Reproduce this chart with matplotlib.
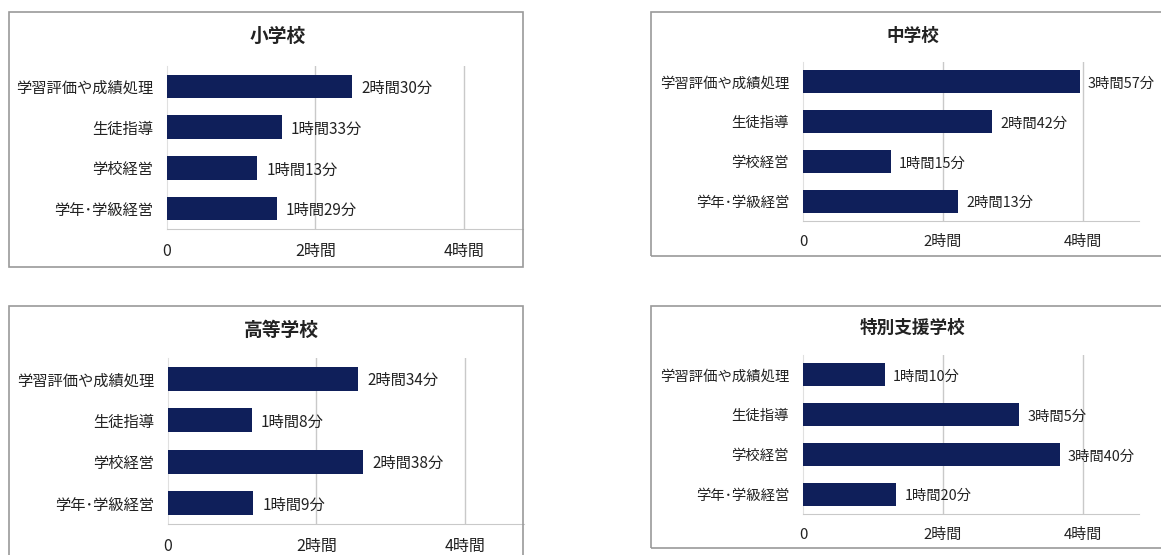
import matplotlib
matplotlib.use("Agg")
import matplotlib.pyplot as plt
from matplotlib.patches import Rectangle

plt.rcParams['font.family'] = ['Noto Sans CJK JP', 'DejaVu Sans']

# --> Data (minutes per day, by school type)
categories = ['学習評価や成績処理', '生徒指導', '学校経営', '学年･学級経営']
titles = ['小学校', '中学校', '高等学校', '特別支援学校']
elementary = [150, 93, 73, 89]
junior_high = [237, 162, 75, 133]
high_school = [154, 68, 158, 69]
special_needs = [70, 185, 220, 80]
tick_values = [0, 2, 4]
tick_labels = ['0', '2時間', '4時間']

W, H = 1161, 555
BAR_COLOR = '#0f1f5a'
GRID_COLOR = '#c9c9c9'
TEXT_COLOR = '#222222'

# --> Panel layout in pixels: border box, axes box (left, right, top, bottom), title centre,
#     and a text scale (right-hand charts are drawn slightly smaller)
panels = [
    dict(data=elementary, box=(9, 12, 523, 267), ax=(167, 523, 66, 229), title=(278, 36), s=1.0),
    dict(data=junior_high, box=(651, 12, 1170, 256), ax=(803, 1139, 62, 221), title=(913, 36), s=0.94),
    dict(data=high_school, box=(9, 306, 523, 570), ax=(168, 524, 358, 524), title=(281, 330), s=1.0),
    dict(data=special_needs, box=(651, 306, 1170, 548), ax=(803, 1139, 355, 514), title=(913, 328), s=0.94),
]


def fmt_minutes(m):
    return f"{m // 60}時間{m % 60}分"


fig = plt.figure(figsize=(W / 100, H / 100), dpi=100)
fig.patch.set_facecolor('white')

for title, p in zip(titles, panels):
    s = p['s']
    bx0, by0, bx1, by1 = p['box']
    fig.patches.append(Rectangle((bx0 / W, 1 - by1 / H), (bx1 - bx0) / W, (by1 - by0) / H,
                                 transform=fig.transFigure, fill=False,
                                 edgecolor='#9a9a9a', linewidth=1.2))

    fig.text(p['title'][0] / W, 1 - p['title'][1] / H, title, ha='center', va='center',
             fontsize=13.5 * s, fontweight='bold', color=TEXT_COLOR)

    l, r, t, b = p['ax']
    ax = fig.add_axes([l / W, 1 - b / H, (r - l) / W, (b - t) / H])
    ax.set_facecolor('none')

    hours = [m / 60 for m in p['data']]
    ypos = list(range(len(categories)))
    ax.barh(ypos, hours, height=0.58, color=BAR_COLOR, zorder=3)

    for y, m, h in zip(ypos, p['data'], hours):
        ax.text(h + 0.12, y + 0.05, fmt_minutes(m), va='center', ha='left',
                fontsize=11 * s, color=TEXT_COLOR, zorder=4)

    ax.set_xlim(0, 4.8)
    ax.set_ylim(3.5, -0.5)
    ax.set_yticks(ypos)
    ax.set_yticklabels(categories, fontsize=11 * s, color=TEXT_COLOR)
    ax.set_xticks(tick_values)
    ax.set_xticklabels(tick_labels, fontsize=11.5 * s, color=TEXT_COLOR)
    ax.tick_params(axis='both', length=0)
    ax.tick_params(axis='y', pad=10)
    ax.tick_params(axis='x', pad=10)

    for v in tick_values[1:]:
        ax.axvline(v, color=GRID_COLOR, linewidth=1, zorder=1)

    for side in ['top', 'right']:
        ax.spines[side].set_visible(False)
    ax.spines['bottom'].set_color(GRID_COLOR)
    ax.spines['left'].set_color('#e0e0e0')

fig.savefig('out.png', dpi=100, facecolor='white')
